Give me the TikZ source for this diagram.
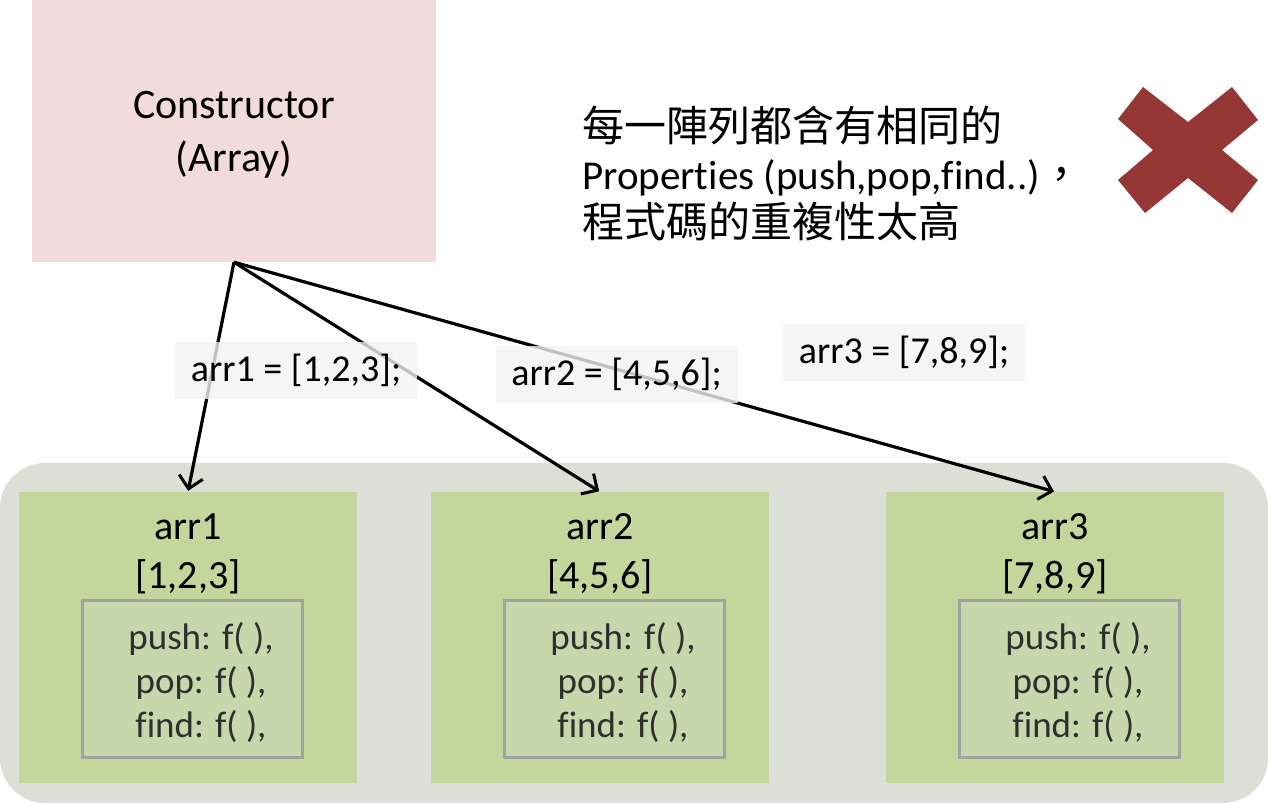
\documentclass[tikz,border=0pt]{standalone}
\usepackage{fontspec}
\setmainfont{Carlito}[Ligatures=NoCommon]
\newfontfamily\cjk[Scale=1.025]{Noto Sans CJK TC}
\usetikzlibrary{arrows.meta}
\definecolor{pinkbox}{HTML}{F2DCDB}
\definecolor{bgbox}{HTML}{DDDFD6}
\definecolor{greenbox}{HTML}{C3D69B}
\definecolor{innerbox}{HTML}{C6D7AC}
\definecolor{innerline}{HTML}{A0A3A0}
\definecolor{labelbox}{HTML}{F2F2F2}
\definecolor{crossred}{HTML}{953735}
\definecolor{innertext}{HTML}{2E2E2E}
\tikzset{
  objbox/.style={fill=greenbox, draw=none, minimum width=338pt, minimum height=291pt, inner sep=0pt},
  propbox/.style={fill=innerbox, draw=innerline, line width=3pt, minimum width=220pt, minimum height=157pt, inner sep=0pt},
  proptext/.style={text=innertext, font=\fontsize{37}{44}\selectfont, align=center, inner sep=0pt},
  arrname/.style={font=\fontsize{40}{48}\selectfont, anchor=base, inner sep=0pt},
  codelabel/.style={fill=labelbox, fill opacity=0.8, text opacity=1, minimum width=242pt, minimum height=57pt, inner sep=0pt, font=\fontsize{38}{44}\selectfont},
  link/.style={line width=3.2pt, -{Straight Barb[length=12pt,width=24pt,line width=3pt]}, shorten >=1pt}
}
\begin{document}
\begin{tikzpicture}[x=1pt,y=-1pt]
\useasboundingbox (0,0) rectangle (1268,803);
% background rounded panel
\path[fill=bgbox, rounded corners=45pt] (0,463) rectangle (1268,803);
% constructor
\node[fill=pinkbox, minimum width=404pt, minimum height=262pt, inner sep=0pt] (con) at (234,131) {};
\node[font=\fontsize{42}{53}\selectfont, align=center, inner sep=0pt] (contxt) at (234,135) {Constructor\\(Array)};
% object boxes
\node[objbox] (g1) at (188,637.5) {};
\node[objbox] (g2) at (600,637.5) {};
\node[objbox] (g3) at (1055,637.5) {};
\node[propbox] (p1) at (192,679) {};
\node[propbox] (p2) at (614,679) {};
\node[propbox] (p3) at (1069,679) {};
\node[arrname] (n1) at (188,539) {arr1};
\node[arrname] (v1) at (188,588) {[1,2,3]};
\node[arrname] (n2) at (600,539) {arr2};
\node[arrname] (v2) at (600,588) {[4,5,6]};
\node[arrname] (n3) at (1055,539) {arr3};
\node[arrname] (v3) at (1055,588) {[7,8,9]};
\node[proptext] (t1) at (201,683) {push: f( ),\\pop: f( ),\\find: f( ),};
\node[proptext] (t2) at (623,683) {push: f( ),\\pop: f( ),\\find: f( ),};
\node[proptext] (t3) at (1078,683) {push: f( ),\\pop: f( ),\\find: f( ),};
% arrows
\draw[link] (con.south) -- (g1.north);
\draw[link] (con.south) -- (g2.north);
\draw[link] (con.south) -- (g3.north);
% code labels
\node[codelabel] (l1) at (296,370) {arr1 = [1,2,3];};
\node[codelabel] (l2) at (616.5,374.5) {arr2 = [4,5,6];};
\node[codelabel] (l3) at (904,352) {arr3 = [7,8,9];};
% comment text
\node[anchor=west, align=left, inner sep=0pt, font=\fontsize{41}{48}\selectfont] (note) at (582,173)
  {{\cjk 每一陣列都含有相同的}\\Properties (push,pop,find..){\cjk ，}\\{\cjk 程式碼的重複性太高}};
% cross mark
\fill[crossred] (1143,87) -- (1188,122) -- (1232,87) -- (1258,120) -- (1222,150) -- (1258,180)
  -- (1232,213) -- (1188,178) -- (1145,213) -- (1118,180) -- (1153,150) -- (1118,119) -- cycle;
\end{tikzpicture}
\end{document}
